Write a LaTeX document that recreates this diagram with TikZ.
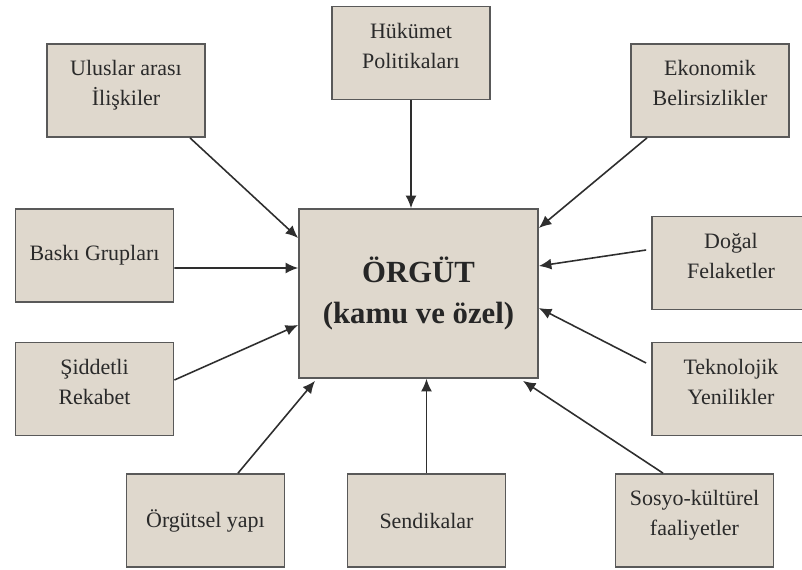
\documentclass[tikz,border=0pt]{standalone}
\usepackage{fontspec}
\setmainfont{Liberation Serif}
\usepackage{tikz}
\usetikzlibrary{arrows.meta,calc,positioning}
\definecolor{BoxFill}{HTML}{DFD8CD}
\definecolor{BoxEdge}{HTML}{595959}
\definecolor{InkText}{HTML}{2A2A2A}
\definecolor{ArrowInk}{HTML}{2E2E2E}

\begin{document}
\begin{tikzpicture}[
        factor/.style={
            draw=BoxEdge,
            fill=BoxFill,
            line width=1pt,
            minimum width=3.16cm,
            minimum height=1.86cm,
            align=center,
            inner sep=2pt,
            text=InkText,
            font=\fontsize{12.5}{17}\selectfont
        },
        lifted/.style={text depth=0.3cm},
        core/.style={
            draw=BoxEdge,
            fill=BoxFill,
            line width=1pt,
            minimum width=4.78cm,
            minimum height=3.38cm,
            align=center,
            text=black!85,
            font=\fontsize{17.5}{23}\selectfont\bfseries
        },
        infl/.style={-{Latex[length=2.5mm,width=2.2mm]}, line width=0.9pt, draw=ArrowInk}
    ]
        \clip (0,0) rectangle (16.04,-11.40);

        \node[core] (org) at (8.37,-5.87) {ÖRGÜT\\(kamu ve özel)};

        \node[factor, lifted] (ulus) at (2.52,-1.81) {Uluslar arası\\İlişkiler};
        \node[factor, lifted] (hukumet) at (8.22,-1.06) {Hükümet\\Politikaları};
        \node[factor, lifted] (ekonomi) at (14.20,-1.81) {Ekonomik\\Belirsizlikler};
        \node[factor] (baski) at (1.89,-5.11) {Baskı Grupları};
        \node[factor, lifted] (dogal) at (14.62,-5.26) {Doğal\\Felaketler};
        \node[factor, lifted] (rekabet) at (1.89,-7.78) {Şiddetli\\Rekabet};
        \node[factor, lifted] (teknoloji) at (14.62,-7.78) {Teknolojik\\Yenilikler};
        \node[factor] (yapi) at (4.11,-10.41) {Örgütsel yapı};
        \node[factor] (sendika) at (8.53,-10.41) {Sendikalar};
        \node[factor, lifted] (sosyo) at (13.89,-10.41) {Sosyo-kültürel\\faaliyetler};

        \draw[infl] ($(ulus.south)+(1.28,0)$) -- ($(org.west)+(0,1.11)$);
        \draw[infl] (hukumet.south) -- (hukumet.south |- org.north);
        \draw[infl] ($(ekonomi.south)+(-1.26,0)$) -- ($(org.east)+(0,1.31)$);
        \draw[infl] ($(baski.east)+(0,-0.25)$) -- ($(org.west)+(0,0.51)$);
        \draw[infl] ($(dogal.west)+(-0.1,0.26)$) -- ($(org.east)+(0,0.55)$);
        \draw[infl] ($(rekabet.east)+(0,0.18)$) -- ($(org.west)+(0,-0.63)$);
        \draw[infl] ($(teknoloji.west)+(-0.1,0.52)$) -- ($(org.east)+(0,-0.29)$);
        \draw[infl] ($(yapi.north)+(0.65,0)$) -- ($(org.south)+(-2.07,-0.04)$);
        \draw[infl] (sendika.north) -- (sendika.north |- org.south);
        \draw[infl] ($(sosyo.north)+(-0.63,0)$) -- ($(org.south)+(2.09,-0.04)$);
    \end{tikzpicture}
\end{document}
